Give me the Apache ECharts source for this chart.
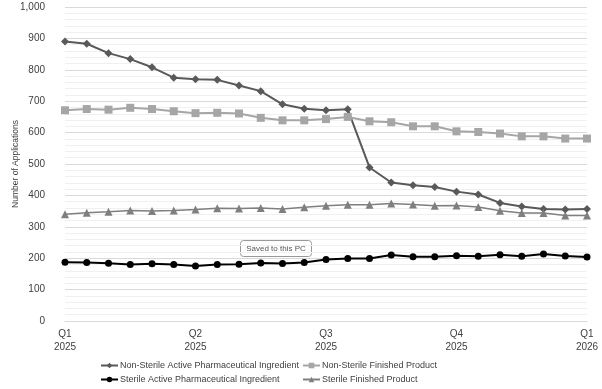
<!DOCTYPE html>
<html>
<head>
<meta charset="utf-8">
<script src="https://cdn.jsdelivr.net/npm/echarts@6/dist/echarts.min.js"></script>
<style>
  html, body { margin: 0; padding: 0; background: #fff; }
  #main { width: 602px; height: 389px; }
</style>
</head>
<body>
<div id="main"></div>
<script>
// tick labels on the x axis, one per quarter (every 6th point)
var quarterLabels = ['Q1\n2025', 'Q2\n2025', 'Q3\n2025', 'Q4\n2025', 'Q1\n2026'];
var pointsPerQuarter = 6;

// series values
var nonSterileApi = [890, 883, 853, 834, 808, 775, 770, 768, 750, 732, 690, 676, 671, 674, 489, 441, 432, 427, 412, 403, 376, 365, 357, 355, 357];
var nonSterileFp = [671, 675, 673, 679, 675, 668, 662, 663, 661, 647, 639, 639, 643, 650, 636, 633, 620, 620, 604, 602, 597, 588, 588, 581, 581];
var sterileApi = [187, 186, 184, 180, 182, 180, 175, 180, 181, 185, 183, 186, 196, 199, 199, 210, 205, 205, 208, 206, 211, 206, 213, 207, 204];
var sterileFp = [340, 345, 348, 352, 350, 352, 355, 359, 358, 360, 357, 362, 367, 370, 370, 374, 371, 367, 368, 363, 351, 344, 344, 336, 336];

var categories = [];
for (var i = 0; i < nonSterileApi.length; i++) {
  categories.push(i % pointsPerQuarter === 0 ? quarterLabels[i / pointsPerQuarter] : '');
}

var fontFam = 'Liberation Sans, Arial, sans-serif';
var myChart = echarts.init(document.getElementById('main'));

function lineSeries(name, data, color, symbol, size, width) {
  return {
    name: name,
    type: 'line',
    data: data,
    symbol: symbol,
    symbolSize: size,
    lineStyle: { color: color, width: width },
    itemStyle: { color: color },
    animation: false
  };
}

// two legend columns so the second column lines up like in the original
function legendColumn(names, left) {
  return {
    data: names,
    orient: 'vertical',
    left: left,
    top: 361,
    padding: 0,
    itemGap: 5,
    itemWidth: 17,
    itemHeight: 7,
    textStyle: { fontSize: 9, color: '#404040', padding: [0, 0, 0, -3] }
  };
}

var option = {
  animation: false,
  textStyle: { fontFamily: fontFam },
  grid: { left: 65, right: 15, top: 7, bottom: 68, outerBoundsMode: 'none', containLabel: false },
  legend: [
    legendColumn(['Non-Sterile Active Pharmaceutical Ingredient', 'Sterile Active Pharmaceutical Ingredient'], 100),
    legendColumn(['Non-Sterile Finished Product', 'Sterile Finished Product'], 302)
  ],
  xAxis: {
    type: 'category',
    boundaryGap: false,
    data: categories,
    axisLine: { lineStyle: { color: '#d9d9d9' } },
    axisTick: { show: false },
    axisLabel: {
      interval: 0,
      margin: 7,
      fontSize: 10,
      lineHeight: 13,
      color: '#404040'
    }
  },
  yAxis: {
    type: 'value',
    min: 0,
    max: 1000,
    interval: 100,
    name: 'Number of Applications',
    nameLocation: 'middle',
    nameGap: 45,
    nameMoveOverlap: false,
    nameTextStyle: { fontSize: 8.5, color: '#404040' },
    axisLine: { show: false },
    axisTick: { show: false },
    axisLabel: {
      margin: 20,
      fontSize: 10,
      color: '#404040',
      formatter: function (v) { return v.toLocaleString('en-US'); }
    },
    splitLine: { lineStyle: { color: '#d9d9d9' } },
    minorTick: { show: false, splitNumber: 5 },
    minorSplitLine: { show: true, lineStyle: { color: '#f0f0f0' } }
  },
  graphic: [
    {
      type: 'group',
      left: 240,
      top: 240,
      children: [
        {
          type: 'rect',
          shape: { x: 0, y: 0, width: 71, height: 16, r: 3 },
          style: { fill: '#fff', stroke: '#999', lineWidth: 1 }
        },
        {
          type: 'text',
          x: 35.5,
          y: 8,
          style: {
            text: 'Saved to this PC',
            fill: '#555',
            font: '8px ' + fontFam,
            align: 'center',
            verticalAlign: 'middle'
          }
        }
      ]
    }
  ],
  series: [
    lineSeries('Non-Sterile Active Pharmaceutical Ingredient', nonSterileApi, '#595959', 'diamond', 8, 2),
    lineSeries('Non-Sterile Finished Product', nonSterileFp, '#a6a6a6', 'rect', 8, 2),
    lineSeries('Sterile Active Pharmaceutical Ingredient', sterileApi, '#000000', 'circle', 7, 2),
    lineSeries('Sterile Finished Product', sterileFp, '#7f7f7f', 'triangle', 8, 1.5)
  ]
};

option && myChart.setOption(option);
</script>
</body>
</html>
